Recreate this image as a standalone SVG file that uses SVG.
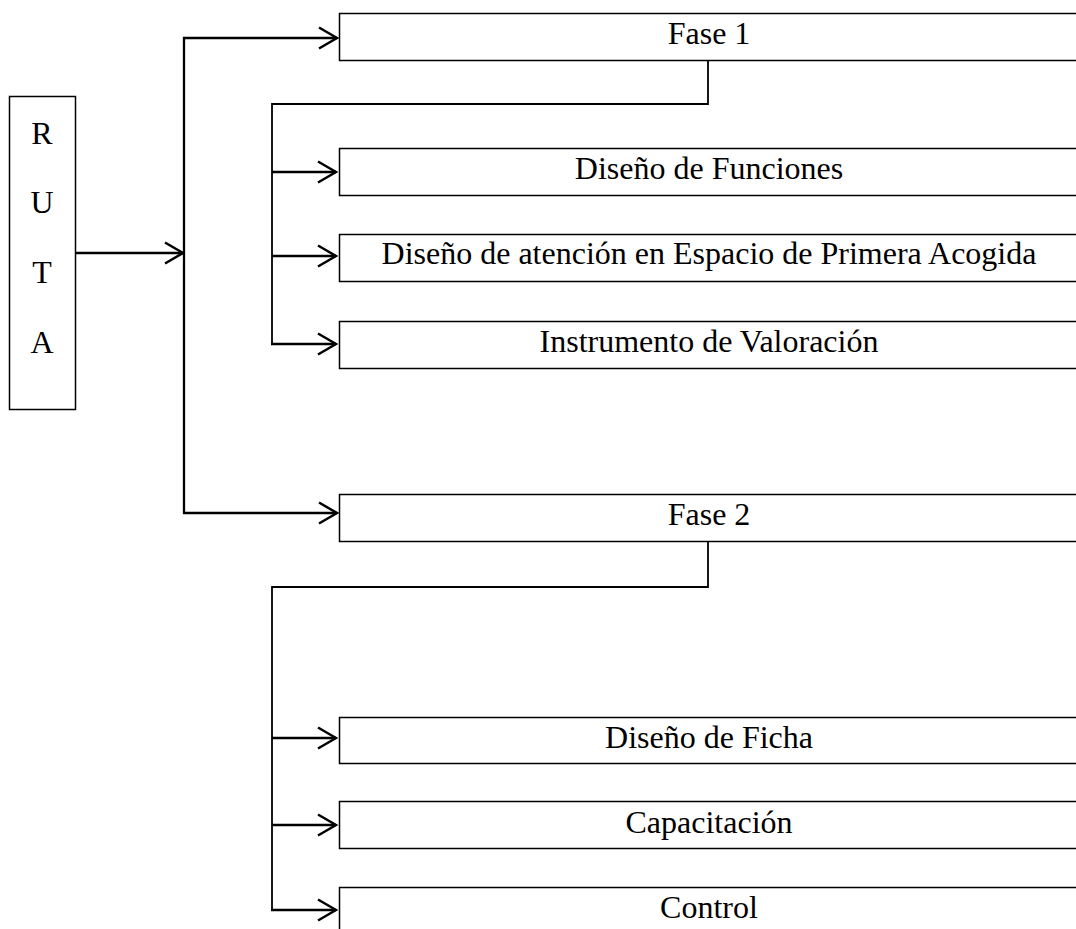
<svg xmlns="http://www.w3.org/2000/svg" width="1076" height="929" viewBox="0 0 1076 929">
  <style>
    .box { fill: #ffffff; stroke: #000000; stroke-width: 1.5; }
    .lbl { font-family: "Liberation Serif", "Times New Roman", serif; font-size: 32px; fill: #000000; text-anchor: middle; }
    .conn { fill: none; stroke: #000000; stroke-width: 2.3; }
    .thin { fill: none; stroke: #000000; stroke-width: 1.8; }
  </style>
  <defs>
    <marker id="arrow" markerUnits="userSpaceOnUse" viewBox="-22 -13 24 26" markerWidth="24" markerHeight="26" refX="0" refY="0" orient="auto">
      <path d="M-18,-10.5 L0,0 L-18,10.5" fill="none" stroke="#000000" stroke-width="2.5"/>
    </marker>
  </defs>
  <rect width="1076" height="929" fill="#ffffff"/>

  <g id="connectors">
    <line class="conn" x1="76" y1="253" x2="183" y2="253" marker-end="url(#arrow)"/>
    <line class="conn" x1="184" y1="37" x2="184" y2="514"/>
    <line class="conn" x1="183" y1="38" x2="337" y2="38" marker-end="url(#arrow)"/>
    <line class="conn" x1="183" y1="513" x2="337" y2="513" marker-end="url(#arrow)"/>

    <polyline class="thin" points="708,60 708,104 272,104 272,345"/>
    <line class="conn" x1="272" y1="172" x2="336" y2="172" marker-end="url(#arrow)"/>
    <line class="conn" x1="272" y1="256" x2="336" y2="256" marker-end="url(#arrow)"/>
    <line class="conn" x1="271" y1="344" x2="336" y2="344" marker-end="url(#arrow)"/>

    <polyline class="thin" points="708,541 708,587 272,587 272,910"/>
    <line class="conn" x1="272" y1="738" x2="336" y2="738" marker-end="url(#arrow)"/>
    <line class="conn" x1="272" y1="825" x2="336" y2="825" marker-end="url(#arrow)"/>
    <line class="conn" x1="271" y1="910" x2="336" y2="910" marker-end="url(#arrow)"/>
  </g>

  <g id="ruta">
    <rect class="box" x="9.5" y="96.5" width="66" height="313"/>
    <text class="lbl" x="42" y="144">R</text>
    <text class="lbl" x="42" y="213">U</text>
    <text class="lbl" x="42" y="283">T</text>
    <text class="lbl" x="42" y="353">A</text>
  </g>

  <g id="fase1">
    <rect class="box" x="339.5" y="13.5" width="740" height="47"/>
    <text class="lbl" x="709" y="44">Fase 1</text>
  </g>
  <g id="diseno-funciones">
    <rect class="box" x="339.5" y="148.5" width="740" height="47"/>
    <text class="lbl" x="709" y="179">Diseño de Funciones</text>
  </g>
  <g id="diseno-atencion">
    <rect class="box" x="339.5" y="234.5" width="740" height="47"/>
    <text class="lbl" x="709" y="264">Diseño de atención en Espacio de Primera Acogida</text>
  </g>
  <g id="instrumento">
    <rect class="box" x="339.5" y="321.5" width="740" height="47"/>
    <text class="lbl" x="709" y="352">Instrumento de Valoración</text>
  </g>

  <g id="fase2">
    <rect class="box" x="339.5" y="494.5" width="740" height="47"/>
    <text class="lbl" x="709" y="525">Fase 2</text>
  </g>
  <g id="diseno-ficha">
    <rect class="box" x="339.5" y="717.5" width="740" height="46"/>
    <text class="lbl" x="709" y="748">Diseño de Ficha</text>
  </g>
  <g id="capacitacion">
    <rect class="box" x="339.5" y="801.5" width="740" height="47"/>
    <text class="lbl" x="709" y="833">Capacitación</text>
  </g>
  <g id="control">
    <rect class="box" x="339.5" y="887.5" width="740" height="47"/>
    <text class="lbl" x="709" y="918">Control</text>
  </g>
</svg>
